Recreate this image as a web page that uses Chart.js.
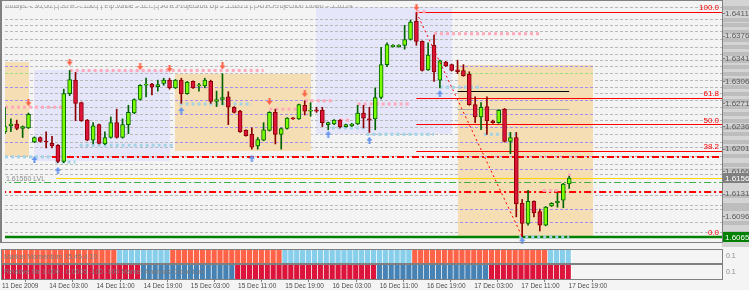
<!DOCTYPE html>
<html lang="en">
<head>
<meta charset="UTF-8">
<title>GBPUSD H1</title>
<style>
    body {
        margin: 0;
        background: #f4f4f4;
        width: 749px;
        height: 290px;
        overflow: hidden;
        position: relative;
    }
    canvas { position: absolute; left: 0; }
    #mainChart { top: 0; }
    #momChart { top: 249px; }
    #strChart { top: 264px; }
</style>
</head>
<body>
<canvas id="mainChart" width="749" height="247"></canvas>
<canvas id="momChart" width="749" height="15"></canvas>
<canvas id="strChart" width="749" height="26"></canvas>

<script src="https://cdn.jsdelivr.net/npm/chart.js"></script>
<script>
    // H1 candles, 11 Dec 19:00 .. 17 Dec 19:00
    const openP = [
        1.6228, 1.6237, 1.6240, 1.6233, 1.6234, 1.6212, 1.6219, 1.6213, 1.6210, 1.6207,
        1.6182, 1.6287, 1.6308, 1.6273, 1.6246, 1.6215, 1.6239, 1.6209, 1.6219, 1.6242,
        1.6219, 1.6239, 1.6257, 1.6278, 1.6300, 1.6302, 1.6298, 1.6303, 1.6308, 1.6296,
        1.6308, 1.6287, 1.6306, 1.6299, 1.6299, 1.6306, 1.6275, 1.6278, 1.6282, 1.6266,
        1.6260, 1.6230, 1.6224, 1.6206, 1.6215, 1.6230, 1.6258, 1.6224, 1.6233, 1.6249,
        1.6248, 1.6269, 1.6260, 1.6262, 1.6261, 1.6239, 1.6240, 1.6246, 1.6236, 1.6237,
        1.6240, 1.6257, 1.6248, 1.6248, 1.6281, 1.6332, 1.6360, 1.6360, 1.6362, 1.6371,
        1.6399, 1.6368, 1.6324, 1.6362, 1.6308, 1.6336, 1.6332, 1.6324, 1.6323, 1.6317,
        1.6270, 1.6251, 1.6267, 1.6245, 1.6242, 1.6263, 1.6213, 1.6219, 1.6117, 1.6086,
        1.6120, 1.6104, 1.6083, 1.6113, 1.6118, 1.6122, 1.6147
    ];
    const highP = [
        1.6266, 1.6248, 1.6246, 1.6237, 1.6257, 1.6220, 1.6220, 1.6228, 1.6221, 1.6208,
        1.6294, 1.6323, 1.6320, 1.6274, 1.6247, 1.6242, 1.6240, 1.6228, 1.6251, 1.6263,
        1.6248, 1.6269, 1.6279, 1.6301, 1.6311, 1.6303, 1.6308, 1.6311, 1.6311, 1.6309,
        1.6311, 1.6306, 1.6307, 1.6303, 1.6311, 1.6308, 1.6291, 1.6318, 1.6290, 1.6267,
        1.6261, 1.6231, 1.6234, 1.6219, 1.6242, 1.6259, 1.6263, 1.6234, 1.6250, 1.6250,
        1.6271, 1.6276, 1.6273, 1.6266, 1.6266, 1.6243, 1.6247, 1.6247, 1.6240, 1.6241,
        1.6269, 1.6269, 1.6266, 1.6296, 1.6359, 1.6366, 1.6363, 1.6363, 1.6393, 1.6401,
        1.6413, 1.6369, 1.6366, 1.6378, 1.6339, 1.6337, 1.6333, 1.6339, 1.6332, 1.6321,
        1.6282, 1.6273, 1.6282, 1.6246, 1.6262, 1.6264, 1.6227, 1.6227, 1.6123, 1.6137,
        1.6121, 1.6108, 1.6112, 1.6118, 1.6133, 1.6148, 1.6159
    ];
    const lowP = [
        1.6225, 1.6228, 1.6231, 1.6219, 1.6233, 1.6211, 1.6212, 1.6203, 1.6203, 1.6180,
        1.6180, 1.6284, 1.6245, 1.6244, 1.6214, 1.6209, 1.6209, 1.6208, 1.6218, 1.6218,
        1.6218, 1.6225, 1.6256, 1.6277, 1.6282, 1.6285, 1.6291, 1.6300, 1.6294, 1.6295,
        1.6272, 1.6286, 1.6295, 1.6291, 1.6296, 1.6272, 1.6267, 1.6270, 1.6239, 1.6257,
        1.6227, 1.6221, 1.6201, 1.6201, 1.6214, 1.6229, 1.6209, 1.6201, 1.6232, 1.6247,
        1.6247, 1.6254, 1.6252, 1.6258, 1.6236, 1.6231, 1.6239, 1.6234, 1.6235, 1.6236,
        1.6239, 1.6234, 1.6227, 1.6231, 1.6279, 1.6329, 1.6359, 1.6359, 1.6356, 1.6370,
        1.6362, 1.6322, 1.6323, 1.6306, 1.6296, 1.6329, 1.6322, 1.6318, 1.6314, 1.6269,
        1.6242, 1.6231, 1.6224, 1.6241, 1.6241, 1.6212, 1.6194, 1.6096, 1.6065, 1.6083,
        1.6096, 1.6074, 1.6082, 1.6112, 1.6111, 1.6110, 1.6140
    ];
    const closeP = [
        1.6236, 1.6240, 1.6233, 1.6236, 1.6255, 1.6219, 1.6213, 1.6212, 1.6206, 1.6182,
        1.6287, 1.6309, 1.6272, 1.6245, 1.6215, 1.6237, 1.6210, 1.6219, 1.6242, 1.6219,
        1.6239, 1.6258, 1.6278, 1.6300, 1.6302, 1.6297, 1.6301, 1.6308, 1.6296, 1.6308,
        1.6287, 1.6305, 1.6296, 1.6300, 1.6308, 1.6275, 1.6278, 1.6281, 1.6266, 1.6258,
        1.6228, 1.6222, 1.6204, 1.6216, 1.6231, 1.6258, 1.6224, 1.6233, 1.6249, 1.6248,
        1.6270, 1.6260, 1.6261, 1.6260, 1.6242, 1.6242, 1.6246, 1.6236, 1.6239, 1.6240,
        1.6257, 1.6249, 1.6246, 1.6281, 1.6332, 1.6363, 1.6362, 1.6362, 1.6371, 1.6398,
        1.6368, 1.6323, 1.6347, 1.6321, 1.6338, 1.6330, 1.6323, 1.6321, 1.6315, 1.6270,
        1.6251, 1.6266, 1.6245, 1.6242, 1.6261, 1.6213, 1.6219, 1.6116, 1.6086, 1.6120,
        1.6102, 1.6083, 1.6111, 1.6117, 1.6120, 1.6147, 1.6156
    ];

    const timeTickIdx = [0, 8, 16, 24, 32, 40, 48, 56, 64, 72, 80, 88, 96];
    const timeLabels = ['11 Dec 2009', '14 Dec 03:00', '14 Dec 11:00', '14 Dec 19:00', '15 Dec 03:00',
        '15 Dec 11:00', '15 Dec 19:00', '16 Dec 03:00', '16 Dec 11:00', '16 Dec 19:00',
        '17 Dec 03:00', '17 Dec 11:00', '17 Dec 19:00'];
    const priceTicks = [1.6411, 1.6376, 1.6341, 1.6306, 1.6271, 1.6236, 1.6201, 1.6166, 1.6131, 1.6096];

    // supply/demand zones and ranges
    const boxKind   = ['zone', 'range', 'zone', 'range', 'zone'];
    const boxFrom   = [-1, 5, 29, 53, 77];
    const boxTo     = [4, 28, 52, 76, 100];
    const boxTop    = [1.6336, 1.6324, 1.6317, 1.6422, 1.6332];
    const boxBottom = [1.6190, 1.6182, 1.6198, 1.6224, 1.6066];

    // pivot grid
    const gridMajor = [1.6329, 1.6297, 1.6276, 1.6255, 1.6234, 1.6212, 1.6190, 1.6169, 1.6108, 1.6087];
    const gridMinor = [1.6420, 1.6402, 1.6393, 1.6383, 1.6371, 1.6359, 1.6348, 1.6338, 1.6318, 1.6308,
        1.6287, 1.6266, 1.6245, 1.6224, 1.6203, 1.6177, 1.6161, 1.6129, 1.6114, 1.6071];

    const fiboPrice = [1.6413, 1.6280, 1.6239, 1.6198, 1.6065];
    const fiboText  = ['100.0', '61.8', '50.0', '38.2', '0.0'];
    const fiboFrom  = 70;

    const levelName  = ['bid', 'dayHigh', 'dayLow', 'dayMid', 'lowLine', 'rangeHigh', 'rangeMid'];
    const levelPrice = [1.6156, 1.6189, 1.6135, 1.6149, 1.6065, 1.6290, 1.6263];
    const levelFrom  = [8.7, 8, -1, -1, -1, 77, 77];
    const levelTo    = [130, 130, 130, 130, 130, 96, 96];

    const resFrom  = [0, 11, 45, 51, 57, 60, 70, 73, 91.5, 95.8];
    const resTo    = [10, 44, 50, 56, 59, 69, 72, 91, 94, 96.4];
    const resPrice = [1.6266, 1.6323, 1.6263, 1.6276, 1.6246, 1.6271, 1.6414, 1.6380, 1.6137, 1.6161];

    const supFrom  = [0, 8.6, 12.7, 29.7, 55.6, 61.5, 74, 81.5, 87.5];
    const supTo    = [7.6, 12, 29, 42, 61.2, 73, 81, 87, 96];
    const supPrice = [1.6189, 1.6181, 1.6207, 1.6271, 1.6234, 1.6224, 1.6297, 1.6224, 1.6065];

    const downArrowIdx   = [4, 11, 23, 28, 37, 45, 51, 70];
    const downArrowPrice = [1.6273, 1.6336, 1.6329, 1.6326, 1.6330, 1.6275, 1.6287, 1.6421];
    const upArrowIdx     = [5, 9, 30, 42, 55, 62, 74, 88];
    const upArrowPrice   = [1.6185, 1.6168, 1.6261, 1.6187, 1.6224, 1.6215, 1.6287, 1.6059];

    const zigzagIdx   = [70, 88];
    const zigzagPrice = [1.6413, 1.6065];

    // indicator panes: 1 / -1 per bar
    const momentum = [
        -1, -1, -1, -1, -1, -1, -1, -1, -1, -1,
        -1, -1, -1, -1, -1, -1, -1, -1, -1, -1,
        1, 1, 1, 1, 1, 1, 1, 1, 1, -1,
        -1, -1, -1, -1, -1, -1, -1, -1, -1, -1,
        -1, -1, -1, -1, -1, -1, -1, -1, 1, 1,
        1, 1, 1, 1, 1, 1, 1, 1, 1, 1,
        1, 1, 1, 1, 1, 1, 1, 1, 1, 1,
        -1, -1, -1, -1, -1, -1, -1, -1, -1, -1,
        -1, -1, -1, -1, -1, -1, -1, -1, -1, -1,
        -1, -1, -1, 1, 1, 1, 1
    ];
    const strength = [
        -1, -1, -1, -1, -1, -1, -1, -1, -1, -1,
        -1, -1, -1, -1, -1, -1, -1, -1, -1, -1,
        -1, -1, -1, -1, 1, 1, 1, 1, 1, 1,
        1, 1, 1, 1, 1, 1, 1, 1, 1, 1,
        -1, -1, -1, -1, -1, -1, -1, -1, -1, -1,
        -1, -1, -1, -1, -1, -1, -1, -1, -1, -1,
        -1, -1, -1, -1, 1, 1, 1, 1, 1, 1,
        1, 1, 1, 1, 1, 1, 1, 1, 1, 1,
        1, 1, 1, -1, -1, -1, -1, -1, -1, -1,
        -1, -1, -1, -1, -1, -1, -1
    ];

    const headerText = 'Todays = 30,00 | | STR = 156 | | Pip Value = 6.7 | | ATR Projection Up = 1.6375 | | ATR Projection Down = 1.6124';
    const lvlText = '1.61560 LVL';

    const levelStyle = {
        bid:       { color: '#ffd700', width: 1, dash: [] },
        dayHigh:   { color: '#ff0000', width: 2, dash: [7, 3, 2, 3] },
        dayLow:    { color: '#ff0000', width: 2, dash: [7, 3, 2, 3] },
        dayMid:    { color: '#3cb043', width: 1, dash: [7, 3, 2, 3] },
        lowLine:   { color: '#008000', width: 2.5, dash: [] },
        rangeHigh: { color: '#000000', width: 1, dash: [] },
        rangeMid:  { color: '#a9a9a9', width: 1, dash: [] }
    };
    const FONT = '"Liberation Sans", Arial, sans-serif';
    const X_MAX = 122;

    function hLine(ctx, x1, x2, y, color, width, dash) {
        const yy = width % 2 === 1 ? Math.round(y - 0.5) + 0.5 : Math.round(y);
        ctx.save();
        ctx.strokeStyle = color;
        ctx.lineWidth = width;
        ctx.setLineDash(dash || []);
        ctx.beginPath();
        ctx.moveTo(x1, yy);
        ctx.lineTo(x2, yy);
        ctx.stroke();
        ctx.restore();
    }

    function arrowImg(color, down) {
        const c = document.createElement('canvas');
        c.width = 7; c.height = 7;
        const g = c.getContext('2d');
        g.fillStyle = color;
        if (down) {
            g.fillRect(2.5, 0, 2, 3.5);
            g.beginPath(); g.moveTo(0.5, 3); g.lineTo(6.5, 3); g.lineTo(3.5, 7); g.fill();
        } else {
            g.fillRect(2.5, 3.5, 2, 3.5);
            g.beginPath(); g.moveTo(0.5, 4); g.lineTo(6.5, 4); g.lineTo(3.5, 0); g.fill();
        }
        return c;
    }

    const mainDecor = {
        id: 'mainDecor',
        beforeDraw(chart) {
            const { ctx, chartArea: a, scales: { y } } = chart;
            ctx.save();
            ctx.fillStyle = '#d4d4d4';
            ctx.fillRect(a.right, 0, chart.width - a.right, chart.height);
            ctx.fillStyle = '#bdbdbd';
            gridMinor.concat(gridMajor).forEach(p => {
                const yy = Math.round(y.getPixelForValue(p));
                ctx.fillRect(a.right + 1, yy - 2, chart.width - a.right, 4);
            });
            ctx.restore();
        },
        beforeDatasetsDraw(chart) {
            const { ctx, chartArea: a, scales: { x, y } } = chart;
            const X = v => x.getPixelForValue(v);
            const Y = v => y.getPixelForValue(v);
            const rect = i => {
                const x1 = Math.round(X(boxFrom[i])), x2 = Math.round(X(boxTo[i]));
                const y1 = Math.round(Y(boxTop[i])), y2 = Math.round(Y(boxBottom[i]));
                return [x1, y1, x2 - x1, y2 - y1];
            };
            ctx.save();
            ctx.beginPath();
            ctx.rect(a.left, a.top, a.width, a.height);
            ctx.clip();

            boxKind.forEach((k, i) => {
                if (k !== 'range') return;
                ctx.fillStyle = '#e6e6fa';
                ctx.fillRect(...rect(i));
            });
            gridMinor.concat(gridMajor).forEach(p => hLine(ctx, a.left, a.right, Y(p), '#b8b8b8', 1, [3, 2]));
            boxKind.forEach((k, i) => {
                if (k !== 'zone') return;
                ctx.fillStyle = '#f5deb3';
                ctx.fillRect(...rect(i));
                ctx.save();
                ctx.beginPath();
                ctx.rect(...rect(i));
                ctx.clip();
                gridMajor.forEach(p => hLine(ctx, a.left, a.right, Y(p), '#a58cf0', 1, [3, 2]));
                hLine(ctx, a.left, a.right, Y(gridMinor[8]), '#9be07a', 1, [3, 2]);
                ctx.restore();
            });

            // fibonacci retracement
            fiboPrice.forEach((p, i) => {
                hLine(ctx, X(fiboFrom), a.right, Y(p), '#ff0000', 1, []);
            });
            levelName.forEach((n, i) => {
                const s = levelStyle[n];
                hLine(ctx, X(levelFrom[i]), Math.min(X(levelTo[i]), a.right), Y(levelPrice[i]), s.color, s.width, s.dash);
            });

            ctx.font = '8px ' + FONT;
            ctx.fillStyle = '#ff0000';
            ctx.textAlign = 'right';
            ctx.textBaseline = 'alphabetic';
            fiboPrice.forEach((p, i) => ctx.fillText(fiboText[i], a.right - 3, Math.round(Y(p)) - 2));

            ctx.font = '7px ' + FONT;
            ctx.textAlign = 'left';
            ctx.fillStyle = '#9c9c9c';
            ctx.fillText(headerText, 4, 8);

            const ly = Math.round(Y(levelPrice[0]));
            const lw = ctx.measureText(lvlText).width;
            ctx.fillStyle = '#f4f4f4';
            ctx.fillRect(4, ly - 3, lw + 4, 6);
            ctx.fillStyle = '#8c8c8c';
            ctx.fillText(lvlText, 6, ly + 3);
            ctx.restore();
        },
        afterDraw(chart) {
            const { ctx, chartArea: a, scales: { y } } = chart;
            ctx.save();
            ctx.strokeStyle = '#808080';
            ctx.lineWidth = 1;
            ctx.strokeRect(1.5, 0.5, a.right - 1, a.bottom);
            ctx.fillStyle = '#808080';
            ctx.fillRect(0, 0, 2, a.bottom + 1);

            const tag = (p, bg) => {
                const yy = Math.round(y.getPixelForValue(p));
                ctx.fillStyle = bg;
                ctx.fillRect(a.right + 1, yy - 5, chart.width - a.right, 10);
                ctx.fillStyle = '#ffffff';
                ctx.font = '8px ' + FONT;
                ctx.textAlign = 'left';
                ctx.textBaseline = 'middle';
                ctx.fillText(p.toFixed(4), a.right + 3, yy + 0.5);
            };
            tag(closeP[closeP.length - 1], '#808080');
            tag(fiboPrice[fiboPrice.length - 1], '#008000');
            ctx.restore();
        }
    };

    const bull = i => closeP[i] >= openP[i];
    const segs = (from, to, price, color, order) => from.map((f, i) => ({
        type: 'line',
        data: [{ x: f, y: price[i] }, { x: to[i], y: price[i] }],
        borderColor: color,
        borderWidth: 3,
        borderDash: [3, 3],
        pointRadius: 0,
        fill: false,
        order: order
    }));

    const downImg = arrowImg('#ff6347', true);
    const upImg = arrowImg('#6495ed', false);

    new Chart(document.getElementById('mainChart'), {
        type: 'bar',
        data: {
            datasets: [
                ...segs(resFrom, resTo, resPrice, '#ffaabb', 5),
                ...segs(supFrom, supTo, supPrice, '#a4d3e6', 5),
                {
                    type: 'bar',
                    data: openP.map((_, i) => ({ x: i, y: [lowP[i], highP[i]] })),
                    backgroundColor: openP.map((_, i) => bull(i) ? '#006400' : '#8b0000'),
                    barThickness: 1,
                    maxBarThickness: 1,
                    grouped: false,
                    order: 3
                },
                {
                    type: 'bar',
                    data: openP.map((o, i) => ({ x: i, y: [o, closeP[i]] })),
                    backgroundColor: openP.map((_, i) => bull(i) ? '#7cfc00' : '#dc143c'),
                    borderColor: openP.map((_, i) => bull(i) ? '#006400' : '#8b0000'),
                    borderWidth: 1,
                    borderSkipped: false,
                    minBarLength: 1,
                    barThickness: 4,
                    maxBarThickness: 4,
                    grouped: false,
                    order: 2
                },
                {
                    type: 'line',
                    data: zigzagIdx.map((v, i) => ({ x: v, y: zigzagPrice[i] })),
                    borderColor: '#ff0000',
                    borderWidth: 1,
                    borderDash: [2, 3],
                    pointRadius: 0,
                    fill: false,
                    order: 1
                },
                {
                    type: 'line',
                    data: downArrowIdx.map((v, i) => ({ x: v, y: downArrowPrice[i] })),
                    showLine: false,
                    pointStyle: downImg,
                    pointRadius: 3,
                    clip: false,
                    order: 0
                },
                {
                    type: 'line',
                    data: upArrowIdx.map((v, i) => ({ x: v, y: upArrowPrice[i] })),
                    showLine: false,
                    pointStyle: upImg,
                    pointRadius: 3,
                    clip: false,
                    order: 0
                }
            ]
        },
        options: {
            responsive: false,
            animation: false,
            events: [],
            layout: { padding: { left: 2, top: 1, right: 0, bottom: 1 } },
            plugins: { legend: { display: false }, tooltip: { enabled: false } },
            scales: {
                x: { type: 'linear', min: 0, max: X_MAX, offset: false, display: false },
                y: {
                    position: 'right',
                    min: 1.6057,
                    max: 1.64245,
                    afterFit: s => { s.width = 27; },
                    afterBuildTicks: s => { s.ticks = priceTicks.map(v => ({ value: v })); },
                    ticks: {
                        padding: 0,
                        color: '#5c5c5c',
                        font: { size: 8, family: FONT },
                        callback: v => v.toFixed(4)
                    },
                    grid: { display: true, drawOnChartArea: false, tickLength: 3, color: '#808080' },
                    border: { display: false }
                }
            }
        },
        plugins: [mainDecor]
    });

    function paneDecor(title, rightLabel, last) {
        return {
            id: 'paneDecor',
            afterDraw(chart) {
                const { ctx, chartArea: a } = chart;
                const h = last ? a.bottom + 1 : chart.height;
                ctx.save();
                ctx.fillStyle = '#808080';
                ctx.fillRect(1, 0, a.right, 1);
                ctx.fillRect(1, 0, 1, h);
                ctx.fillRect(a.right, 0, 1, h);
                if (last) ctx.fillRect(1, a.bottom, a.right, 1);
                else ctx.fillRect(1, chart.height - 1, a.right, 1);
                ctx.font = '7px ' + FONT;
                ctx.textBaseline = 'middle';
                ctx.fillStyle = '#7a7a7a';
                ctx.fillText(title, 4, (a.top + a.bottom) / 2 + 0.5);
                ctx.fillStyle = '#8c8c8c';
                ctx.fillText(rightLabel, a.right + 4, (a.top + a.bottom) / 2);
                ctx.restore();
            }
        };
    }

    function paneChart(id, values, posColor, negColor, title, rightLabel, withAxis) {
        return new Chart(document.getElementById(id), {
            type: 'bar',
            data: {
                datasets: [{
                    data: values.map((v, i) => ({ x: i, y: Math.abs(v) })),
                    backgroundColor: values.map(v => v > 0 ? posColor : negColor),
                    borderColor: '#ffffff',
                    borderWidth: { left: 0, right: 1, top: 0, bottom: 0 },
                    borderSkipped: false,
                    barThickness: 5.9,
                    maxBarThickness: 5.9,
                    grouped: false
                }]
            },
            options: {
                responsive: false,
                animation: false,
                events: [],
                layout: { padding: { left: 2, top: 1, right: 0, bottom: withAxis ? 0 : 1 } },
                plugins: { legend: { display: false }, tooltip: { enabled: false } },
                scales: {
                    x: {
                        type: 'linear', min: 0, max: X_MAX, offset: false,
                        display: withAxis,
                        afterFit: s => { s.height = withAxis ? 11 : 0; },
                        afterBuildTicks: s => { s.ticks = timeTickIdx.map(v => ({ value: v })); },
                        ticks: {
                            autoSkip: false,
                            maxRotation: 0,
                            align: 'start',
                            padding: 0,
                            color: '#4a4a4a',
                            font: { size: 6.5, family: FONT },
                            callback: (v, i) => timeLabels[i]
                        },
                        grid: { display: true, drawOnChartArea: false, tickLength: 3, color: '#808080' },
                        border: { display: false }
                    },
                    y: {
                        min: 0, max: 1,
                        position: 'right',
                        afterFit: s => { s.width = 27; },
                        ticks: { display: false },
                        grid: { display: false },
                        border: { display: false }
                    }
                }
            },
            plugins: [paneDecor(title, rightLabel, withAxis)]
        });
    }

    paneChart('momChart', momentum, '#87ceeb', '#ff6347', 'Market Momentum 15,45,4,10', '0.1', false);
    paneChart('strChart', strength, '#4682b4', '#dc143c', 'Relative Str 1,000 - 0,0005 -100 -100 Market Analysis Cloud Lim', '0.1', true);
</script>
</body>
</html>
